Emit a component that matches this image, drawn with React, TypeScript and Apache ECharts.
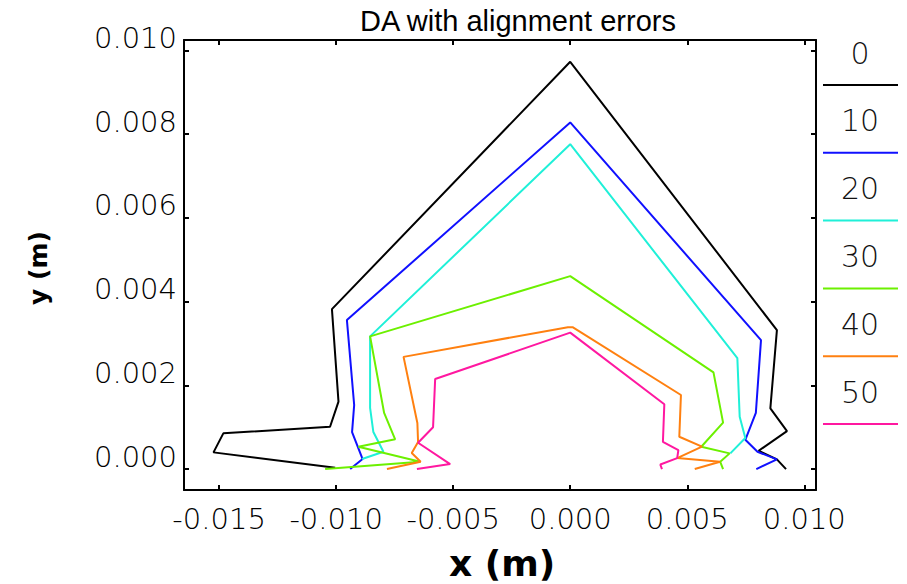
import React, { useEffect, useRef } from "react";
import * as echarts from "echarts";

// Dynamic aperture boundaries (x [m], y [m]) for each alignment-error seed
const da0: number[][] = [
  [0.00922, 0.0], [0.00883, 0.000232], [0.00805, 0.000437], [0.00926, 0.000908],
  [0.00855, 0.00145], [0.00883, 0.00332], [0.0, 0.00973], [-0.01018, 0.00382],
  [-0.0099, 0.00161], [-0.01026, 0.00101], [-0.01482, 0.000853], [-0.01524, 0.000399],
  [-0.01004, 0.000031],
];
const da10: number[][] = [
  [0.00795, 0.0], [0.00883, 0.000232], [0.008, 0.000413], [0.00748, 0.0007],
  [0.00793, 0.00134], [0.00815, 0.00308], [0.0, 0.00828], [-0.00954, 0.00356],
  [-0.00923, 0.00153], [-0.00932, 0.000884], [-0.00887, 0.000239], [-0.0094, 0.0],
];
const da20: number[][] = [
  [0.00684, 0.000375], [0.00748, 0.000741], [0.00724, 0.00125], [0.00714, 0.00265],
  [0.0, 0.00776], [-0.00855, 0.00317], [-0.00855, 0.00146], [-0.00841, 0.000884],
  [-0.00798, 0.000413], [-0.00889, 0.000239],
];
const da30: number[][] = [
  [0.00653, 0.0], [0.00641, 0.000174], [0.00681, 0.000375], [0.0056, 0.000533],
  [0.00653, 0.00111], [0.00612, 0.00231], [0.0, 0.00461], [-0.00855, 0.00317],
  [-0.00795, 0.00134], [-0.00748, 0.00071], [-0.00905, 0.000533], [-0.00641, 0.000174],
  [-0.01047, 0.0],
];
const da40: number[][] = [
  [0.00532, 0.0], [0.0064, 0.000174], [0.00457, 0.000263], [0.00563, 0.000538],
  [0.00466, 0.000772], [0.00473, 0.00177], [0.0001, 0.00339], [-0.0001, 0.00339],
  [-0.00712, 0.00268], [-0.00653, 0.0011], [-0.0065, 0.000645], [-0.00677, 0.000382],
  [-0.00639, 0.000174], [-0.00783, 0.0],
];
const da50: number[][] = [
  [0.00392, 0.0], [0.00385, 0.000108], [0.00457, 0.000263], [0.00462, 0.000454],
  [0.00396, 0.000652], [0.00402, 0.00155], [0.0, 0.00326], [-0.00577, 0.00215],
  [-0.00586, 0.001], [-0.0065, 0.000628], [-0.00513, 0.000119], [-0.00655, 0.0],
];

const seriesNames = ["0", "10", "20", "30", "40", "50"];
const seriesData = [da0, da10, da20, da30, da40, da50];
const seriesColors = ["#000000", "#1010ff", "#1ff0d8", "#6cf000", "#ff8010", "#ff18a0"];

const xTicks = [-0.015, -0.01, -0.005, 0.0, 0.005, 0.01];
const yTicks = [0.0, 0.002, 0.004, 0.006, 0.008, 0.01];

const titleText = "DA with alignment errors";
const xTitle = "x (m)";
const yTitle = "y (m)";

export default function App() {
  const ref = useRef<HTMLDivElement>(null);

  useEffect(() => {
    document.body.style.margin = "0";
    if (!ref.current) return;
    const chart = echarts.init(ref.current, undefined, { renderer: "svg" });

    const labelFont = {
      fontFamily: "DejaVu Sans",
      fontSize: 29,
      fontWeight: 200 as any,
      color: "#000",
    };
    const frameLine = { show: true, onZero: false, lineStyle: { color: "#000", width: 2 } };
    const tickStyle = { color: "#000", width: 2 };

    const legendGraphics: any[] = [];
    seriesNames.forEach((name, i) => {
      const top = 53 + i * 67.8;
      legendGraphics.push({
        type: "text",
        x: 860,
        y: top,
        style: {
          text: name,
          fill: "#111",
          font: "200 30px 'DejaVu Sans'",
          textAlign: "center",
          textVerticalAlign: "middle",
        },
      });
      legendGraphics.push({
        type: "line",
        shape: { x1: 823, y1: top + 32, x2: 898, y2: top + 32 },
        style: { stroke: seriesColors[i], lineWidth: 2 },
      });
    });

    chart.setOption({
      animation: false,
      backgroundColor: "#ffffff",
      title: {
        text: titleText,
        left: 513,
        top: 1,
        textAlign: "center",
        textStyle: {
          fontFamily: "Liberation Sans",
          fontSize: 29,
          fontWeight: "normal",
          color: "#000",
        },
      },
      grid: { left: 184, right: 91, top: 40, bottom: 94, containLabel: false },
      xAxis: [
        {
          type: "value",
          min: -0.0165,
          max: 0.0105,
          position: "bottom",
          axisLine: frameLine,
          axisTick: { show: true, inside: true, length: 5, customValues: xTicks, lineStyle: tickStyle },
          axisLabel: {
            show: true,
            customValues: xTicks,
            formatter: (v: number) => v.toFixed(3),
            margin: 14,
            ...labelFont,
          },
          splitLine: { show: false },
        },
        {
          type: "value",
          min: -0.0165,
          max: 0.0105,
          position: "top",
          axisLine: frameLine,
          axisTick: { show: true, inside: true, length: 5, customValues: xTicks, lineStyle: tickStyle },
          axisLabel: { show: false },
          splitLine: { show: false },
        },
      ],
      yAxis: [
        {
          type: "value",
          min: -0.0005,
          max: 0.01025,
          position: "left",
          axisLine: frameLine,
          axisTick: { show: true, inside: true, length: 5, customValues: yTicks, lineStyle: tickStyle },
          axisLabel: {
            show: true,
            customValues: yTicks,
            formatter: (v: number) => v.toFixed(3),
            margin: 7,
            verticalAlign: "bottom",
            lineHeight: 25,
            ...labelFont,
          },
          splitLine: { show: false },
        },
        {
          type: "value",
          min: -0.0005,
          max: 0.01025,
          position: "right",
          axisLine: frameLine,
          axisTick: { show: true, inside: true, length: 5, customValues: yTicks, lineStyle: tickStyle },
          axisLabel: { show: false },
          splitLine: { show: false },
        },
      ],
      series: seriesData.map((d, i) => ({
        name: seriesNames[i],
        type: "line",
        xAxisIndex: 0,
        yAxisIndex: 0,
        data: d,
        showSymbol: false,
        symbol: "none",
        lineStyle: { color: seriesColors[i], width: 2 },
        itemStyle: { color: seriesColors[i] },
        z: 2 + i,
      })),
      graphic: [
        {
          type: "text",
          x: 38,
          y: 268,
          rotation: Math.PI / 2,
          style: {
            text: yTitle,
            fill: "#000",
            font: "bold 25px 'DejaVu Sans'",
            textAlign: "center",
            textVerticalAlign: "middle",
          },
        },
        {
          type: "text",
          x: 502,
          y: 563,
          style: {
            text: xTitle,
            fill: "#000",
            font: "bold 36px 'DejaVu Sans'",
            textAlign: "center",
            textVerticalAlign: "middle",
          },
        },
        ...legendGraphics,
      ],
    });

    return () => chart.dispose();
  }, []);

  return <div ref={ref} style={{ width: 907, height: 584 }} />;
}
